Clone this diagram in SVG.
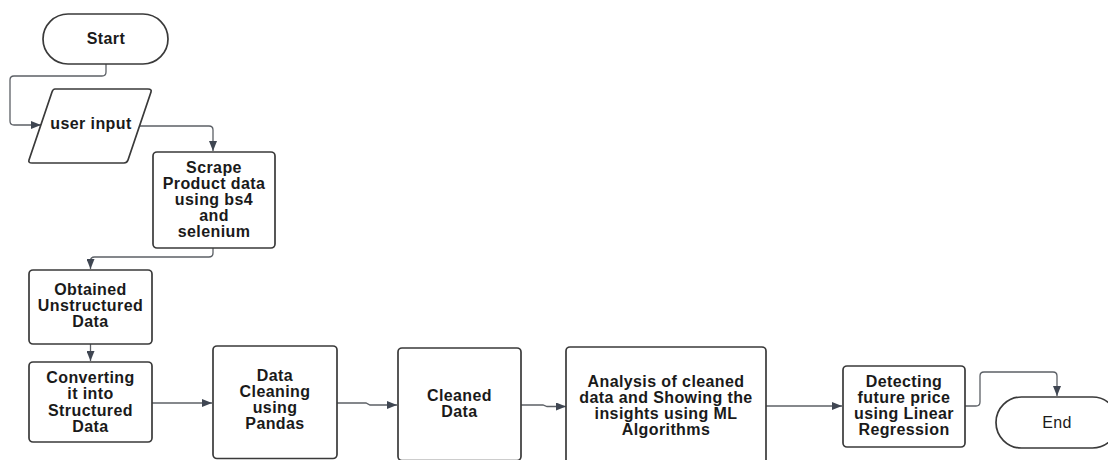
<svg xmlns="http://www.w3.org/2000/svg" width="1108" height="460" viewBox="0 0 1108 460">
<defs>
<marker id="ah" viewBox="0 0 10 8" refX="10" refY="4" markerWidth="10" markerHeight="8" orient="auto" markerUnits="userSpaceOnUse"><path d="M0,0 L10,4 L0,8 z" fill="#3f4652"/></marker>
<style>
.box{fill:#ffffff;stroke:#3a3a3a;stroke-width:1.7}
.edge{fill:none;stroke:#5c6066;stroke-width:1.3;marker-end:url(#ah)}
.t{font-family:"Liberation Sans",Arial,sans-serif;font-size:16px;font-weight:bold;fill:#1a1a1a;text-anchor:middle;letter-spacing:0.4px}
.n{font-weight:normal}
</style>
</defs>
<rect width="1108" height="460" fill="#ffffff"/>
<g id="connectors">
<path class="edge" d="M106,64 V72 Q106,76 102,76 H14 Q10,76 10,80 V121 Q10,125 14,125 H41"/>
<path class="edge" d="M139,126 H209 Q213,126 213,130 V151"/>
<path class="edge" d="M213,248 V253 Q213,257 209,257 H94.5 Q90.5,257 90.5,261 V269"/>
<path class="edge" d="M90.5,344 V361"/>
<path class="edge" d="M152,403 H212"/>
<path class="edge" d="M337,403 H366 L370,405 H397"/>
<path class="edge" d="M521,405 H543 L547,406.5 H566"/>
<path class="edge" d="M766,406 H842"/>
<path class="edge" d="M965,406 H976 Q980,406 980,402 V376 Q980,372 984,372 H1053 Q1057,372 1057,376 V396"/>
</g>
<g id="start">
<rect class="box" x="43" y="14" width="125" height="50" rx="25"/>
<text class="t" x="106" y="44">Start</text>
</g>
<g id="user-input">
<path class="box" d="M55,89 H148 Q152,89 151,92 L128,160 Q127,163 124,163 H32 Q28,163 29,160 L52,92 Q53,89 55,89 z"/>
<text class="t" x="91" y="129">user input</text>
</g>
<g id="scrape">
<rect class="box" x="153" y="152" width="122" height="96" rx="4"/>
<text class="t" x="214" y="173">Scrape</text>
<text class="t" x="214" y="189">Product data</text>
<text class="t" x="214" y="205">using bs4</text>
<text class="t" x="214" y="221">and</text>
<text class="t" x="214" y="237">selenium</text>
</g>
<g id="obtained">
<rect class="box" x="29" y="270" width="123" height="74" rx="4"/>
<text class="t" x="90.5" y="294.5">Obtained</text>
<text class="t" x="90.5" y="310.5">Unstructured</text>
<text class="t" x="90.5" y="326.5">Data</text>
</g>
<g id="converting">
<rect class="box" x="29" y="362" width="123" height="80" rx="4"/>
<text class="t" x="90.5" y="383">Converting</text>
<text class="t" x="90.5" y="399.3">it into</text>
<text class="t" x="90.5" y="415.6">Structured</text>
<text class="t" x="90.5" y="432">Data</text>
</g>
<g id="data-cleaning">
<rect class="box" x="213" y="346" width="124" height="112.5" rx="4"/>
<text class="t" x="275" y="380.5">Data</text>
<text class="t" x="275" y="396.8">Cleaning</text>
<text class="t" x="275" y="413">using</text>
<text class="t" x="275" y="429.3">Pandas</text>
</g>
<g id="cleaned-data">
<rect class="box" x="398" y="348" width="123" height="112.5" rx="4"/>
<text class="t" x="459.5" y="401">Cleaned</text>
<text class="t" x="459.5" y="417">Data</text>
</g>
<g id="analysis">
<rect class="box" x="566" y="347" width="200" height="125" rx="4"/>
<text class="t" x="666" y="386.7">Analysis of cleaned</text>
<text class="t" x="666" y="402.7">data and Showing the</text>
<text class="t" x="666" y="419">insights using ML</text>
<text class="t" x="666" y="435">Algorithms</text>
</g>
<g id="detecting">
<rect class="box" x="843" y="366" width="122" height="81" rx="4"/>
<text class="t" x="904" y="387">Detecting</text>
<text class="t" x="904" y="403">future price</text>
<text class="t" x="904" y="419">using Linear</text>
<text class="t" x="904" y="435">Regression</text>
</g>
<g id="end">
<rect class="box" x="996" y="397" width="122" height="51" rx="25.5"/>
<text class="t n" x="1057" y="428">End</text>
</g>
</svg>
